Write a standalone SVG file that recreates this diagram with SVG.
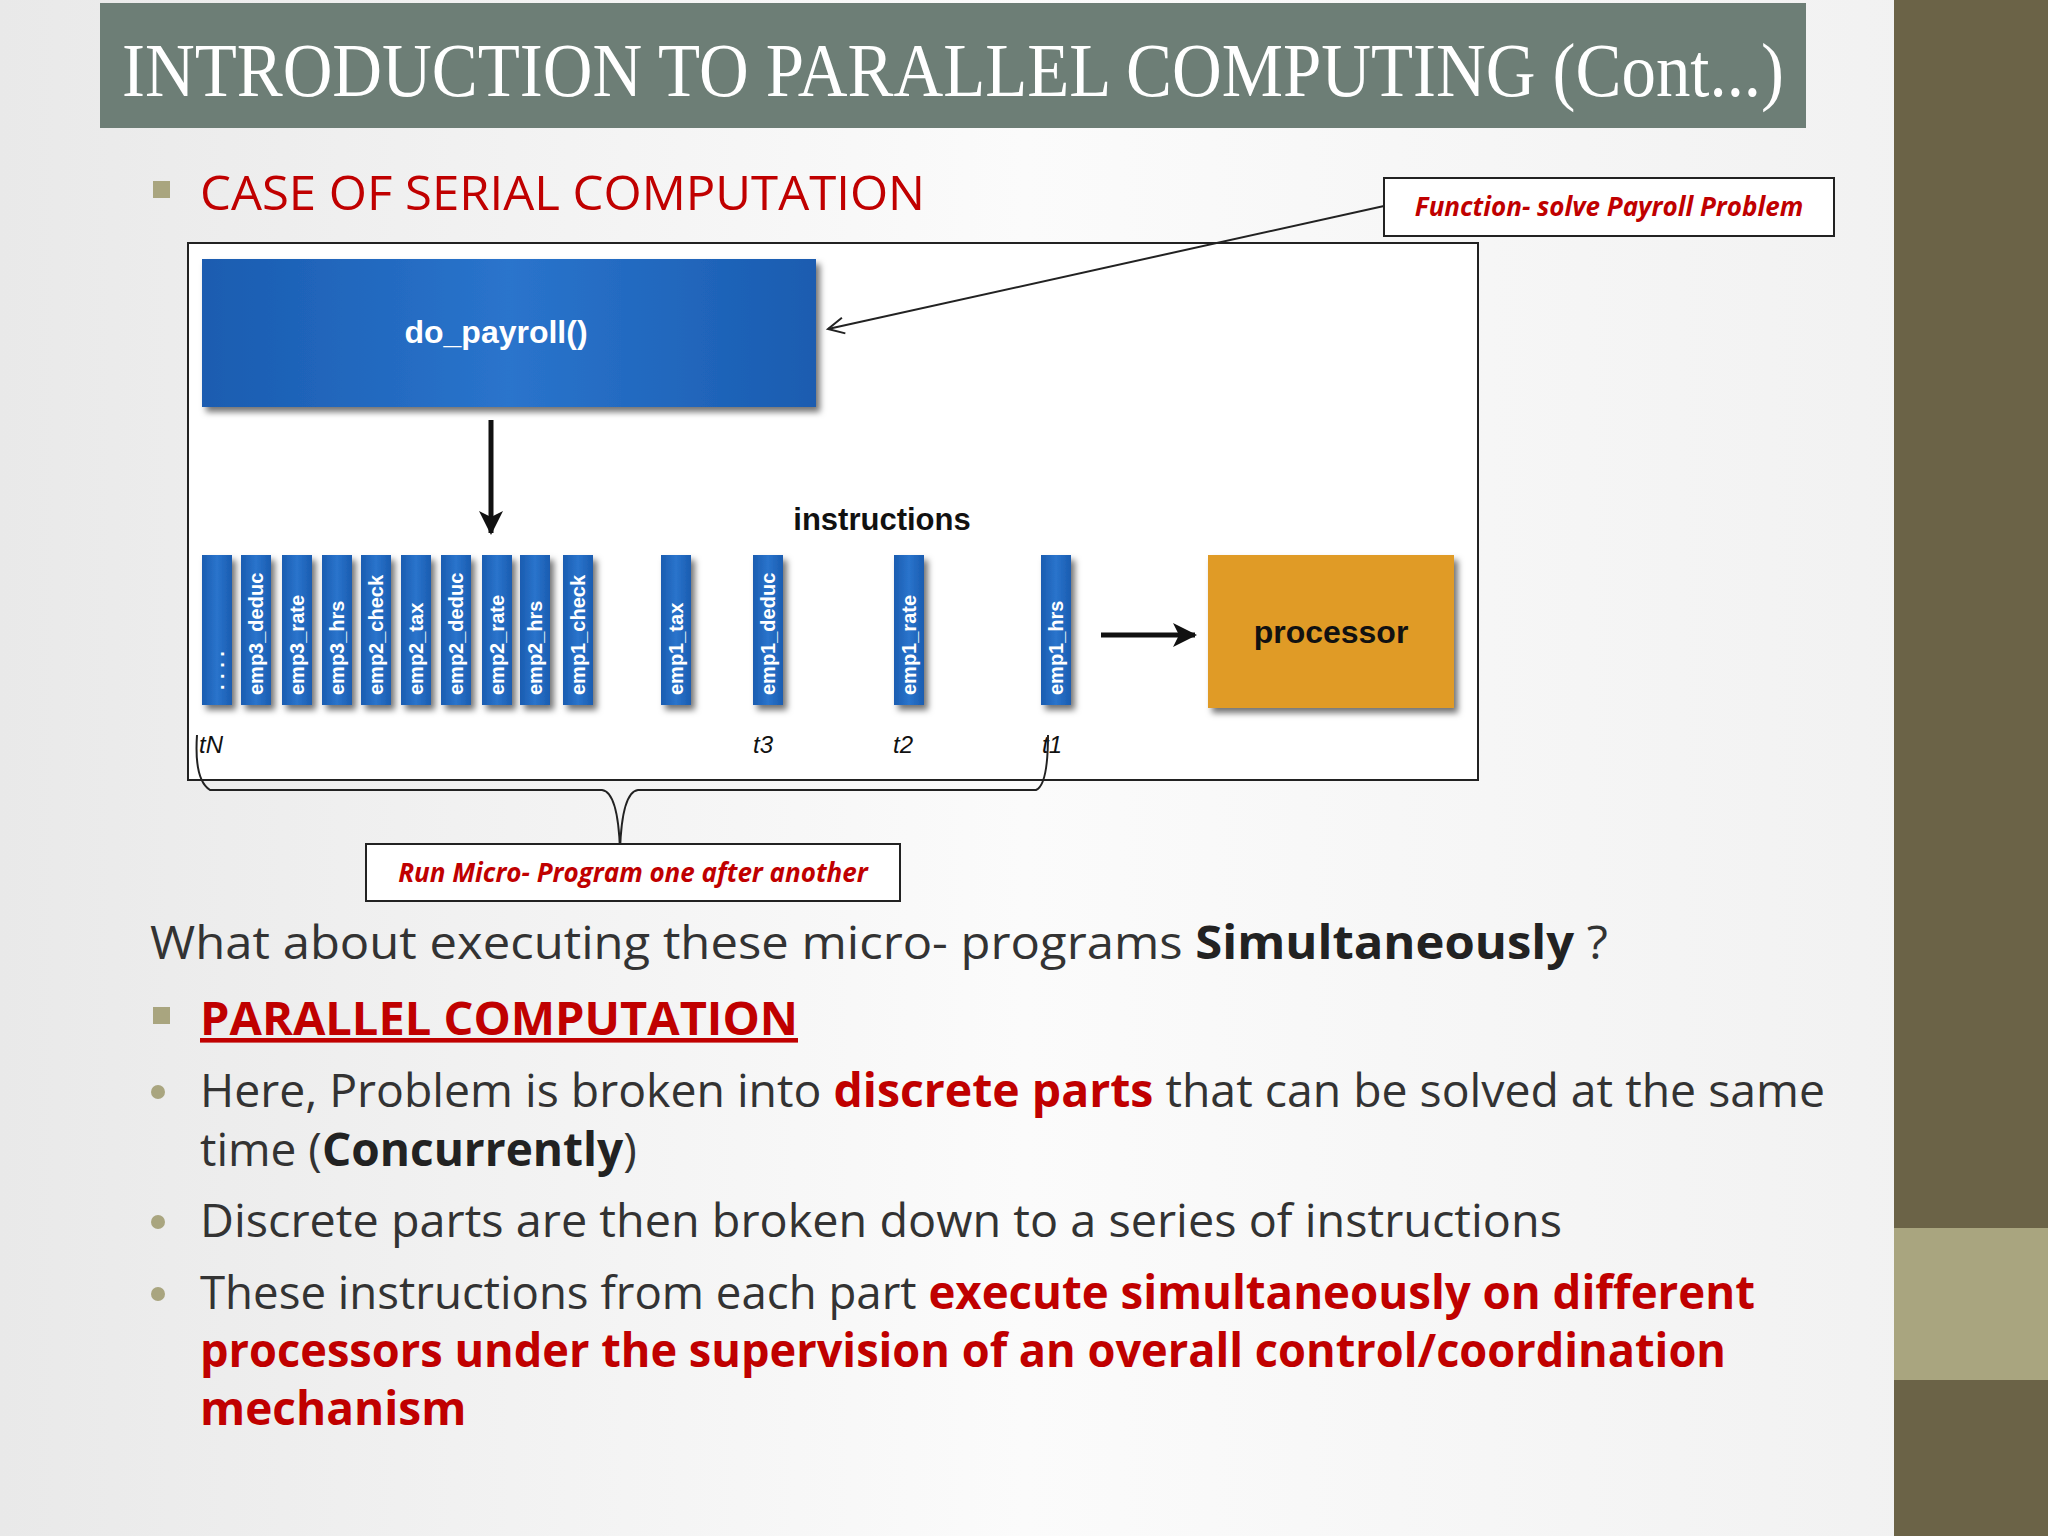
<svg xmlns="http://www.w3.org/2000/svg" width="2048" height="1536" viewBox="0 0 2048 1536">
<defs>
<linearGradient id="bg" x1="0" y1="0" x2="1" y2="0"><stop offset="0" stop-color="#e9e9e9"/><stop offset="0.5" stop-color="#fbfbfb"/><stop offset="1" stop-color="#f0f0f0"/></linearGradient>
<linearGradient id="blue" x1="0" y1="0" x2="1" y2="0"><stop offset="0" stop-color="#1a5cb0"/><stop offset="0.5" stop-color="#2a74cc"/><stop offset="1" stop-color="#1a5cb0"/></linearGradient>
<filter id="sh" x="-20%" y="-20%" width="160%" height="140%"><feDropShadow dx="4" dy="5" stdDeviation="3" flood-color="#000" flood-opacity="0.55"/></filter>
<marker id="open" markerWidth="20" markerHeight="20" refX="17" refY="10" orient="auto" markerUnits="userSpaceOnUse"><path d="M1,2 L17,10 L1,18" fill="none" stroke="#222" stroke-width="2"/></marker>
<marker id="solid" markerWidth="24" markerHeight="24" refX="22" refY="12" orient="auto" markerUnits="userSpaceOnUse"><path d="M0,0 L24,12 L0,24 L6,12 Z" fill="#111"/></marker>
<style>
.bar{fill:url(#blue);filter:url(#sh)}
.bt{font-family:"Liberation Sans",Arial,sans-serif;font-weight:bold;font-size:20px;fill:#fff}
.t{font-family:"Liberation Sans",Arial,sans-serif;font-style:italic;font-size:24px;fill:#111}
.body{font-family:"Open Sans","Liberation Sans",sans-serif;font-size:46px;fill:#333}
.red{fill:#c00000;font-weight:bold}
.call{font-family:"Open Sans","Liberation Sans",sans-serif;font-style:italic;font-weight:bold;font-size:26px;fill:#c00000}
</style>
</defs>
<rect width="2048" height="1536" fill="url(#bg)"/>
<rect x="1894" y="0" width="154" height="1536" fill="#6b6347"/>
<rect x="1894" y="1228" width="154" height="152" fill="#a9a57f"/>
<g id="title"><rect x="100" y="3" width="1706" height="125" fill="#6d7e76"/>
<text x="122" y="96" font-family="Liberation Serif,serif" font-size="76" fill="#fff" textLength="1662" lengthAdjust="spacingAndGlyphs">INTRODUCTION TO PARALLEL COMPUTING (Cont...)</text></g>
<rect x="153" y="181" width="17" height="17" fill="#a9a57f"/>
<text x="200" y="210" font-family="Open Sans,Liberation Sans,sans-serif" font-size="48" fill="#c00000" textLength="725" lengthAdjust="spacingAndGlyphs">CASE OF SERIAL COMPUTATION</text>
<rect x="188" y="243" width="1290" height="537" fill="#fff" stroke="#222" stroke-width="2"/>
<g id="do_payroll"><rect x="202" y="259" width="614" height="148" fill="url(#blue)" filter="url(#sh)"/>
<text x="496" y="343" text-anchor="middle" font-family="Liberation Sans,sans-serif" font-weight="bold" font-size="32" fill="#fff">do_payroll()</text></g>
<g id="processor"><rect x="1208" y="555" width="246" height="153" fill="#e09b28" filter="url(#sh)"/>
<text x="1331" y="643" text-anchor="middle" font-family="Liberation Sans,sans-serif" font-weight="bold" font-size="32" fill="#111">processor</text></g>
<text x="882" y="530" text-anchor="middle" font-family="Liberation Sans,sans-serif" font-weight="bold" font-size="31" fill="#111">instructions</text>
<g id="bars">
<rect class="bar" x="202" y="555" width="30" height="150"/><text class="bt" transform="translate(224,690) rotate(-90)">. . . .</text>
<rect class="bar" x="241" y="555" width="30" height="150"/><text class="bt" transform="translate(263,695) rotate(-90)">emp3_deduc</text>
<rect class="bar" x="282" y="555" width="30" height="150"/><text class="bt" transform="translate(304,695) rotate(-90)">emp3_rate</text>
<rect class="bar" x="322" y="555" width="30" height="150"/><text class="bt" transform="translate(344,695) rotate(-90)">emp3_hrs</text>
<rect class="bar" x="361" y="555" width="30" height="150"/><text class="bt" transform="translate(383,695) rotate(-90)">emp2_check</text>
<rect class="bar" x="401" y="555" width="30" height="150"/><text class="bt" transform="translate(423,695) rotate(-90)">emp2_tax</text>
<rect class="bar" x="441" y="555" width="30" height="150"/><text class="bt" transform="translate(463,695) rotate(-90)">emp2_deduc</text>
<rect class="bar" x="482" y="555" width="30" height="150"/><text class="bt" transform="translate(504,695) rotate(-90)">emp2_rate</text>
<rect class="bar" x="520" y="555" width="30" height="150"/><text class="bt" transform="translate(542,695) rotate(-90)">emp2_hrs</text>
<rect class="bar" x="563" y="555" width="30" height="150"/><text class="bt" transform="translate(585,695) rotate(-90)">emp1_check</text>
<rect class="bar" x="661" y="555" width="30" height="150"/><text class="bt" transform="translate(683,695) rotate(-90)">emp1_tax</text>
<rect class="bar" x="753" y="555" width="30" height="150"/><text class="bt" transform="translate(775,695) rotate(-90)">emp1_deduc</text>
<rect class="bar" x="894" y="555" width="30" height="150"/><text class="bt" transform="translate(916,695) rotate(-90)">emp1_rate</text>
<rect class="bar" x="1041" y="555" width="30" height="150"/><text class="bt" transform="translate(1063,695) rotate(-90)">emp1_hrs</text>
</g>
<text class="t" x="199" y="753">tN</text><text class="t" x="753" y="753">t3</text><text class="t" x="893" y="753">t2</text><text class="t" x="1042" y="753">t1</text>
<g id="connectors" fill="none">
<line x1="491" y1="420" x2="491" y2="533" stroke="#111" stroke-width="5" marker-end="url(#solid)"/>
<line x1="1101" y1="635" x2="1195" y2="635" stroke="#111" stroke-width="5" marker-end="url(#solid)"/>
<polyline points="1384,206 828,329" stroke="#222" stroke-width="2" marker-end="url(#open)"/>
<path d="M197,735 Q194,780 210,790 L602,790 Q618,792 620,850 Q622,792 638,790 L1036,790 Q1048,785 1048,735" stroke="#222" stroke-width="2"/>
</g>
<g id="callout1"><rect x="1384" y="178" width="450" height="58" fill="#fff" stroke="#222" stroke-width="2"/>
<text class="call" x="1609" y="216" text-anchor="middle">Function- solve Payroll Problem</text></g>
<g id="callout2"><rect x="366" y="844" width="534" height="57" fill="#fff" stroke="#222" stroke-width="2"/>
<text class="call" x="633" y="882" text-anchor="middle">Run Micro- Program one after another</text></g>
<text class="body" x="150" y="959" textLength="1458" lengthAdjust="spacingAndGlyphs">What about executing these micro- programs <tspan font-weight="bold" fill="#222">Simultaneously</tspan> ?</text>
<rect x="153" y="1007" width="17" height="17" fill="#a9a57f"/>
<text class="body red" x="200" y="1035" text-decoration="underline" textLength="598" lengthAdjust="spacingAndGlyphs">PARALLEL COMPUTATION</text>
<g fill="#a9a57f"><circle cx="158" cy="1092" r="7"/><circle cx="158" cy="1222" r="7"/><circle cx="158" cy="1294" r="7"/></g>
<text class="body" x="200" y="1107" textLength="1625" lengthAdjust="spacingAndGlyphs">Here, Problem is broken into <tspan class="red">discrete parts</tspan> that can be solved at the same</text>
<text class="body" x="200" y="1166">time (<tspan font-weight="bold" fill="#222">Concurrently</tspan>)</text>
<text class="body" x="200" y="1237" textLength="1362" lengthAdjust="spacingAndGlyphs">Discrete parts are then broken down to a series of instructions</text>
<text class="body" x="200" y="1309" textLength="1555" lengthAdjust="spacingAndGlyphs">These instructions from each part <tspan class="red">execute simultaneously on different</tspan></text>
<text class="body red" x="200" y="1367" textLength="1526" lengthAdjust="spacingAndGlyphs">processors under the supervision of an  overall control/coordination</text>
<text class="body red" x="200" y="1425">mechanism</text>
</svg>
